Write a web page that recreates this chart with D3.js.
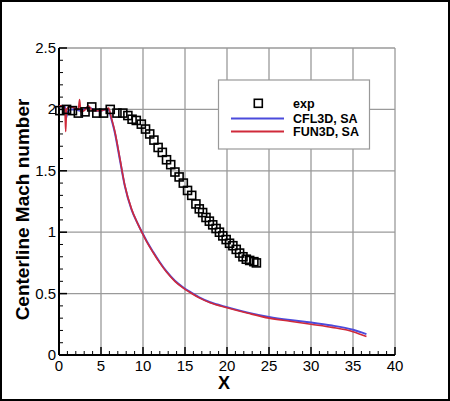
<!DOCTYPE html>
<html><head><meta charset="utf-8">
<script src="https://cdn.jsdelivr.net/npm/d3@7"></script>
<style>html,body{margin:0;padding:0;background:#fff;}svg{display:block;}</style>
</head><body>
<svg id="chart" width="450" height="401"></svg>
<script>
// Experimental data (x, Mach)
const expX = [0.1,0.9,1.6,2.3,3.1,3.9,4.5,5.3,6.1,6.9,7.6,8.2,8.7,9.2,9.8,10.3,10.8,11.3,11.8,12.3,12.8,13.3,13.8,14.3,14.8,15.3,15.8,16.3,16.7,17.1,17.5,17.9,18.3,18.7,19.1,19.5,19.9,20.3,20.7,21.1,21.5,21.9,22.3,22.7,23.2,23.5];
const expY = [1.99,2.00,1.99,1.97,1.98,2.02,1.97,1.97,2.00,1.97,1.97,1.95,1.92,1.91,1.88,1.84,1.80,1.75,1.69,1.65,1.59,1.55,1.49,1.45,1.40,1.34,1.30,1.23,1.19,1.16,1.12,1.09,1.06,1.03,1.00,0.97,0.94,0.91,0.89,0.86,0.83,0.80,0.78,0.77,0.76,0.75];
// CFL3D, SA
const cflX = [0,0.4,0.7,0.85,1.0,1.5,2.0,2.5,3.0,3.5,4.0,4.5,5.0,5.5,5.9,6.2,6.65,7.25,7.84,8.63,9.3,9.93,10.5,11.2,12.0,12.8,13.8,14.8,15.7,16.7,18,20,22.5,25,27.5,30,32.5,35,36.6];
const cflY = [2.02,2.03,2.02,1.93,1.98,2.0,2.0,1.99,2.0,2.02,2.0,1.99,1.99,2.0,2.0,1.93,1.81,1.59,1.375,1.185,1.08,0.994,0.92,0.84,0.755,0.68,0.605,0.55,0.51,0.47,0.43,0.39,0.345,0.31,0.285,0.265,0.24,0.205,0.17];
// FUN3D, SA
const funX = [0,0.5,0.7,0.8,0.9,1.2,2.0,2.3,2.45,2.6,3.0,3.5,4.0,4.5,5.0,5.5,5.9,6.2,6.65,7.25,7.84,8.63,9.3,9.93,10.5,11.2,12.0,12.8,13.8,14.8,15.7,16.7,18,20,22.5,25,27.5,30,32.5,35,36.6];
const funY = [2.03,2.03,2.0,1.82,2.0,2.02,2.01,2.0,2.08,1.98,1.99,2.03,1.99,1.99,1.99,2.0,2.01,1.94,1.82,1.60,1.38,1.19,1.08,0.99,0.915,0.835,0.75,0.675,0.60,0.545,0.505,0.465,0.425,0.385,0.34,0.30,0.275,0.25,0.225,0.19,0.15];
const xTicks = [0,5,10,15,20,25,30,35,40];
const yTicks = [0,0.5,1,1.5,2,2.5];
const yTickLabels = ["0","0.5","1","1.5","2","2.5"];
const legendLabels = ["exp","CFL3D, SA","FUN3D, SA"];

const svg = d3.select("#chart");
const L = 59, R = 395, T = 48, B = 355;
const x = d3.scaleLinear().domain([0,40]).range([L,R]);
const y = d3.scaleLinear().domain([0,2.5]).range([B,T]);
const font = "Arial, 'Liberation Sans', Helvetica, sans-serif";

// outer frame
svg.append("rect").attr("x",1).attr("y",1).attr("width",448).attr("height",399)
  .attr("fill","#fff").attr("stroke","#000").attr("stroke-width",2);

// grid
const g = svg.append("g");
g.selectAll("line.gx").data(xTicks.slice(1)).enter().append("line")
  .attr("x1",d=>x(d)).attr("x2",d=>x(d)).attr("y1",T).attr("y2",B)
  .attr("stroke","#9a9a9a").attr("stroke-width",1.3);
g.selectAll("line.gy").data(yTicks.slice(1)).enter().append("line")
  .attr("y1",d=>y(d)).attr("y2",d=>y(d)).attr("x1",L).attr("x2",R)
  .attr("stroke","#9a9a9a").attr("stroke-width",1.3);

// minor ticks
const xMinor = d3.range(0,41,1).filter(v=>v%5!==0);
const yMinor = d3.range(0,26,1).map(v=>v/10).filter((v,i)=>i%5!==0);
svg.selectAll("line.xm").data(xMinor).enter().append("line")
  .attr("x1",d=>x(d)).attr("x2",d=>x(d)).attr("y1",B).attr("y2",B-4)
  .attr("stroke","#000").attr("stroke-width",1);
svg.selectAll("line.ym").data(yMinor).enter().append("line")
  .attr("y1",d=>y(d)).attr("y2",d=>y(d)).attr("x1",L).attr("x2",L+4)
  .attr("stroke","#000").attr("stroke-width",1);
// major ticks
svg.selectAll("line.xM").data(xTicks).enter().append("line")
  .attr("x1",d=>x(d)).attr("x2",d=>x(d)).attr("y1",B).attr("y2",B-8)
  .attr("stroke","#000").attr("stroke-width",1.5);
svg.selectAll("line.yM").data(yTicks).enter().append("line")
  .attr("y1",d=>y(d)).attr("y2",d=>y(d)).attr("x1",L).attr("x2",L+8)
  .attr("stroke","#000").attr("stroke-width",1.5);

// axis lines
svg.append("line").attr("x1",L).attr("x2",R).attr("y1",B).attr("y2",B).attr("stroke","#000").attr("stroke-width",2);
svg.append("line").attr("x1",L).attr("x2",L).attr("y1",T).attr("y2",B).attr("stroke","#000").attr("stroke-width",2);

// tick labels
svg.selectAll("text.xl").data(xTicks).enter().append("text")
  .attr("x",d=>x(d)).attr("y",B+16).attr("text-anchor","middle")
  .attr("font-family",font).attr("font-size",15).text(d=>d);
svg.selectAll("text.yl").data(yTicks).enter().append("text")
  .attr("x",L-3).attr("y",d=>y(d)+5).attr("text-anchor","end")
  .attr("font-family",font).attr("font-size",15).text((d,i)=>yTickLabels[i]);

// axis titles
svg.append("text").attr("x",(L+R)/2-3).attr("y",389).attr("text-anchor","middle")
  .attr("font-family",font).attr("font-size",18).attr("font-weight","bold").text("X");
svg.append("text").attr("transform",`translate(29,${(T+B)/2+8}) rotate(-90)`).attr("text-anchor","middle")
  .attr("font-family",font).attr("font-size",19).attr("font-weight","bold").text("Centerline Mach number");

// lines
const line = d3.line().x(d=>x(d[0])).y(d=>y(d[1])).curve(d3.curveMonotoneX);
const cfl = cflX.map((v,i)=>[v,cflY[i]]);
const fun = funX.map((v,i)=>[v,funY[i]]);
svg.append("path").datum(cfl).attr("d",line).attr("fill","none").attr("stroke","#4b4bdc").attr("stroke-width",2);
svg.append("path").datum(fun).attr("d",line).attr("fill","none").attr("stroke","#d02a3a").attr("stroke-width",1.6);

// exp squares
const sq = 8;
svg.selectAll("rect.exp").data(expX.map((v,i)=>[v,expY[i]])).enter().append("rect")
  .attr("x",d=>x(d[0])-sq/2).attr("y",d=>y(d[1])-sq/2).attr("width",sq).attr("height",sq)
  .attr("fill","none").attr("stroke","#000").attr("stroke-width",1.6);

// legend
const lg = svg.append("g");
lg.append("rect").attr("x",218.5).attr("y",80).attr("width",151).attr("height",69)
  .attr("fill","#fff").attr("stroke","#999").attr("stroke-width",1.2);
lg.append("rect").attr("x",258.3-4).attr("y",103.3-4).attr("width",sq).attr("height",sq)
  .attr("fill","none").attr("stroke","#000").attr("stroke-width",1.6);
lg.append("line").attr("x1",231).attr("x2",284).attr("y1",118.5).attr("y2",118.5).attr("stroke","#4b4bdc").attr("stroke-width",2);
lg.append("line").attr("x1",231).attr("x2",284).attr("y1",131.5).attr("y2",131.5).attr("stroke","#d02a3a").attr("stroke-width",2);
lg.selectAll("text").data(legendLabels).enter().append("text")
  .attr("x",293).attr("y",(d,i)=>[108,122.5,135.5][i]).attr("font-family",font)
  .attr("font-size",12.5).attr("font-weight","bold").text(d=>d);
</script>
</body></html>
